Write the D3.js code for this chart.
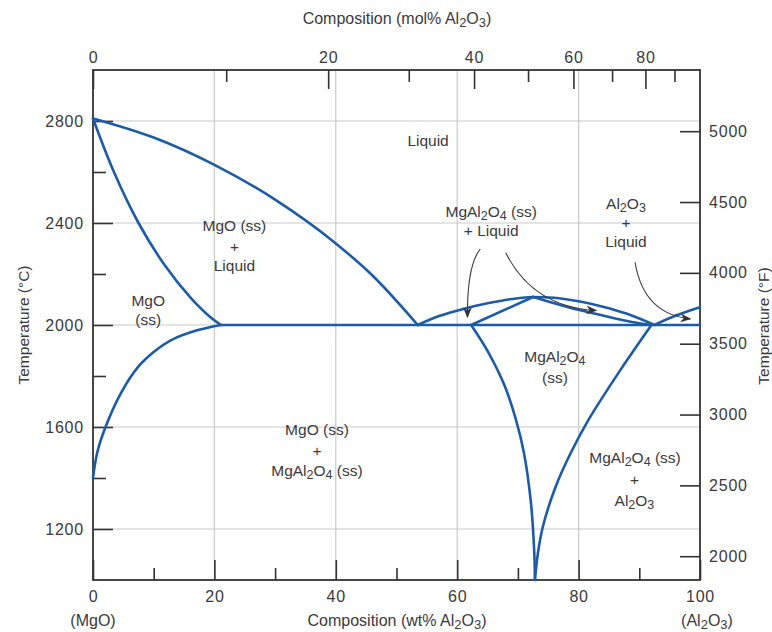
<!DOCTYPE html>
<html>
<head>
<meta charset="utf-8">
<script src="https://cdn.jsdelivr.net/npm/d3@7"></script>
<style>
  body { margin: 0; background: #fff; }
  text { font-family: "Liberation Sans", Arial, sans-serif; fill: #3a3a3e; }
</style>
</head>
<body>
<script>
// ---------- Data (wt% Al2O3, temperature °C) ----------
const liquidusMgO = [[0,2810],[10,2735],[20,2628],[30,2492],[40,2320],[46,2195],[53.5,2000]];
const solidusMgO = [[0,2810],[3.45,2600],[7.5,2400],[11.8,2235],[16.1,2106],[19.5,2027],[21.1,2000]];
const solvusMgO = [[0,1400],[0.7,1500],[2.0,1596],[4.6,1733],[7.4,1835],[10.2,1898],[12.9,1941],[17.3,1980],[21.1,2000]];
const eutecticLine = [[21.1,2000],[100,2000]];
const liquidusSpinel = [[53.5,2000],[57,2035],[61,2063],[65,2085],[69,2102],[72.5,2110],[76,2107],[80,2093],[84,2072],[88,2044],[92.5,2000]];
const solidusSpinelLeft = [[62.3,2000],[72.5,2110]];
const solidusSpinelRight = [[72.5,2110],[78,2072],[83.5,2040],[89,2011],[92,2000]];
const liquidusAl2O3 = [[92.5,2000],[96,2037],[100,2070]];
const solvusSpinelLeft = [[62.3,2000],[65.2,1890],[67.9,1757],[69.7,1627],[71.0,1498],[72.15,1302],[72.7,1106],[72.8,1000]];
const solvusSpinelRight = [[92,2000],[86.9,1824],[81.6,1627],[78.7,1498],[76.2,1365],[74.1,1208],[73.3,1106],[72.8,1000]];

// axis ticks
const wtMajor = [0,20,40,60,80,100];
const wtMinor = [10,30,50,70,90];
const cMajor = [1200,1600,2000,2400,2800];
const cMinor = [1400,1800,2200,2600];
const fTicks = [2000,2500,3000,3500,4000,4500,5000];
const molMajor = [0,20,40,60,80];
const molMinor = [10,30,50,70,90];
const wtGrid = [20,40,60,80];

// region labels: [text, wt%, °C]  ("_" marks a subscript digit)
const regionLabels = [
  ["Liquid", 55.2, 2722],
  ["MgO (ss)", 23.3, 2392], ["+", 23.3, 2310], ["Liquid", 23.3, 2235],
  ["MgO", 9.1, 2098], ["(ss)", 9.1, 2020],
  ["MgAl_2O_4 (ss)", 65.6, 2445], ["+ Liquid", 65.6, 2369],
  ["Al_2O_3", 87.8, 2478], ["+", 87.8, 2404], ["Liquid", 87.8, 2329],
  ["MgAl_2O_4", 76.1, 1878], ["(ss)", 76.1, 1796],
  ["MgO (ss)", 36.9, 1592], ["+", 36.9, 1510], ["MgAl_2O_4 (ss)", 36.9, 1431],
  ["MgAl_2O_4 (ss)", 89.3, 1482], ["+", 89.2, 1396], ["Al_2O_3", 89.2, 1314]
];
// annotation arrows: [start, control, end] in (wt%, °C)
const arrows = [
  [[63.8,2298],[61.6,2233],[61.7,2031]],
  [[68.0,2283],[72.5,2070],[82.9,2057]],
  [[89.3,2246],[90.7,2043],[98.4,2024]]
];

// ---------- Scales ----------
const W = 772, H = 632;
const x = d3.scaleLinear().domain([0,100]).range([93,700]);
const y = d3.scaleLinear().domain([1000,3000]).range([580,70]);
const yF = d3.scaleLinear().domain([1000*1.8+32, 3000*1.8+32]).range([580,70]);
const molToWt = m => { const f = m/100; return 100 * (101.96*f) / (101.96*f + 40.30*(1-f)); };

const svg = d3.select("body").append("svg").attr("width", W).attr("height", H);

// subscript-aware text writer
function writeText(sel, str, subSize) {
  const parts = str.split(/(_\d)/);
  parts.forEach(p => {
    if (!p) return;
    if (p[0] === "_") {
      sel.append("tspan").attr("baseline-shift", "-25%").attr("font-size", subSize).text(p.slice(1));
    } else {
      sel.append("tspan").text(p);
    }
  });
}

// ---------- Grid ----------
const grid = svg.append("g").attr("stroke", "#c9c9c9").attr("stroke-width", 1.2);
cMajor.forEach(v => grid.append("line").attr("x1", x(0)).attr("x2", x(100)).attr("y1", y(v)).attr("y2", y(v)));
wtGrid.forEach(v => grid.append("line").attr("x1", x(v)).attr("x2", x(v)).attr("y1", y(1000)).attr("y2", y(3000)));

// ---------- Axes ----------
const fmt = d3.format("d");
function styleAxis(g) {
  g.select(".domain").remove();
  g.selectAll(".tick line").attr("stroke", "#333").attr("stroke-width", 1.6);
  g.selectAll(".tick text").attr("font-size", 16).attr("fill", "#3a3a3e").attr("letter-spacing", "0.8px")
    .attr("font-family", '"Liberation Sans", Arial, sans-serif');
}
// left (°C)
svg.append("g").attr("transform", `translate(${x(0)},0)`)
  .call(d3.axisLeft(y).tickValues(cMajor).tickFormat(fmt).tickSize(-20).tickPadding(9).tickSizeOuter(0)).call(styleAxis);
svg.append("g").attr("transform", `translate(${x(0)},0)`)
  .call(d3.axisLeft(y).tickValues(cMinor).tickSize(-13).tickFormat("").tickSizeOuter(0)).call(styleAxis);
// bottom (wt%)
svg.append("g").attr("transform", `translate(0,${y(1000)})`)
  .call(d3.axisBottom(x).tickValues(wtMajor).tickFormat(fmt).tickSize(-20).tickPadding(11).tickSizeOuter(0)).call(styleAxis);
svg.append("g").attr("transform", `translate(0,${y(1000)})`)
  .call(d3.axisBottom(x).tickValues(wtMinor).tickSize(-12).tickFormat("").tickSizeOuter(0)).call(styleAxis);
// right (°F)
svg.append("g").attr("transform", `translate(${x(100)},0)`)
  .call(d3.axisRight(yF).tickValues(fTicks).tickFormat(fmt).tickSize(-20).tickPadding(9).tickSizeOuter(0)).call(styleAxis);
// top (mol%)
svg.append("g").attr("transform", `translate(0,${y(3000)})`)
  .call(d3.axisTop(x).tickValues(molMajor.map(molToWt)).tickSize(-19).tickPadding(7).tickSizeOuter(0)
    .tickFormat((d,i) => String(molMajor[i]))).call(styleAxis);
svg.append("g").attr("transform", `translate(0,${y(3000)})`)
  .call(d3.axisTop(x).tickValues(molMinor.map(molToWt)).tickSize(-12).tickFormat("").tickSizeOuter(0)).call(styleAxis);

// frame
svg.append("rect").attr("x", x(0)).attr("y", y(3000)).attr("width", x(100)-x(0)).attr("height", y(1000)-y(3000))
  .attr("fill", "none").attr("stroke", "#333").attr("stroke-width", 1.8);

// ---------- Phase boundaries ----------
const mk = c => d3.line().x(d => x(d[0])).y(d => y(d[1])).curve(c);
const lineX = mk(d3.curveMonotoneX);
const lineC = mk(d3.curveCatmullRom.alpha(0.5));
const lineStraight = mk(d3.curveLinear);
const curves = svg.append("g").attr("fill", "none").attr("stroke", "#1c5ca6").attr("stroke-width", 2.6)
  .attr("stroke-linejoin", "round").attr("stroke-linecap", "round");
[liquidusMgO, liquidusSpinel, solidusSpinelRight, liquidusAl2O3]
  .forEach(d => curves.append("path").attr("d", lineX(d)));
[solidusMgO, solvusMgO, solvusSpinelLeft, solvusSpinelRight]
  .forEach(d => curves.append("path").attr("d", lineC(d)));
[eutecticLine, solidusSpinelLeft].forEach(d => curves.append("path").attr("d", lineStraight(d)));

// ---------- Arrows ----------
svg.append("defs").append("marker").attr("id", "arr").attr("viewBox", "0 0 10 10")
  .attr("refX", 9).attr("refY", 5).attr("markerWidth", 11).attr("markerHeight", 11)
  .attr("markerUnits", "userSpaceOnUse").attr("orient", "auto")
  .append("path").attr("d", "M0,1 L10,5 L0,9 L3,5 Z").attr("fill", "#333");
const ag = svg.append("g").attr("fill", "none").attr("stroke", "#3a3a3a").attr("stroke-width", 1.1);
arrows.forEach(a => {
  const p = d3.path();
  p.moveTo(x(a[0][0]), y(a[0][1]));
  p.quadraticCurveTo(x(a[1][0]), y(a[1][1]), x(a[2][0]), y(a[2][1]));
  ag.append("path").attr("d", p.toString()).attr("marker-end", "url(#arr)");
});

// ---------- Region labels ----------
regionLabels.forEach(([t, w, c]) => {
  const tx = svg.append("text").attr("x", x(w)).attr("y", y(c)).attr("dy", "0.36em")
    .attr("text-anchor", "middle").attr("font-size", 15.5);
  writeText(tx, t, 12.5);
});

// ---------- Axis titles ----------
const topTitle = svg.append("text").attr("x", 397).attr("y", 18).attr("dy", "0.36em").attr("text-anchor", "middle").attr("font-size", 16);
writeText(topTitle, "Composition (mol% Al_2O_3)", 13);
const botTitle = svg.append("text").attr("x", 397).attr("y", 620).attr("dy", "0.36em").attr("text-anchor", "middle").attr("font-size", 16);
writeText(botTitle, "Composition (wt% Al_2O_3)", 13);
svg.append("text").attr("x", x(0)).attr("y", 620).attr("dy", "0.36em").attr("text-anchor", "middle").attr("font-size", 16).text("(MgO)");
const alTitle = svg.append("text").attr("x", 707).attr("y", 620).attr("dy", "0.36em").attr("text-anchor", "middle").attr("font-size", 16);
writeText(alTitle, "(Al_2O_3)", 13);
svg.append("text").attr("transform", "translate(23,325) rotate(-90)").attr("dy", "0.36em")
  .attr("text-anchor", "middle").attr("font-size", 15.5).text("Temperature (°C)");
svg.append("text").attr("transform", "translate(763,326) rotate(-90)").attr("dy", "0.36em")
  .attr("text-anchor", "middle").attr("font-size", 15.5).text("Temperature (°F)");
</script>
</body>
</html>
